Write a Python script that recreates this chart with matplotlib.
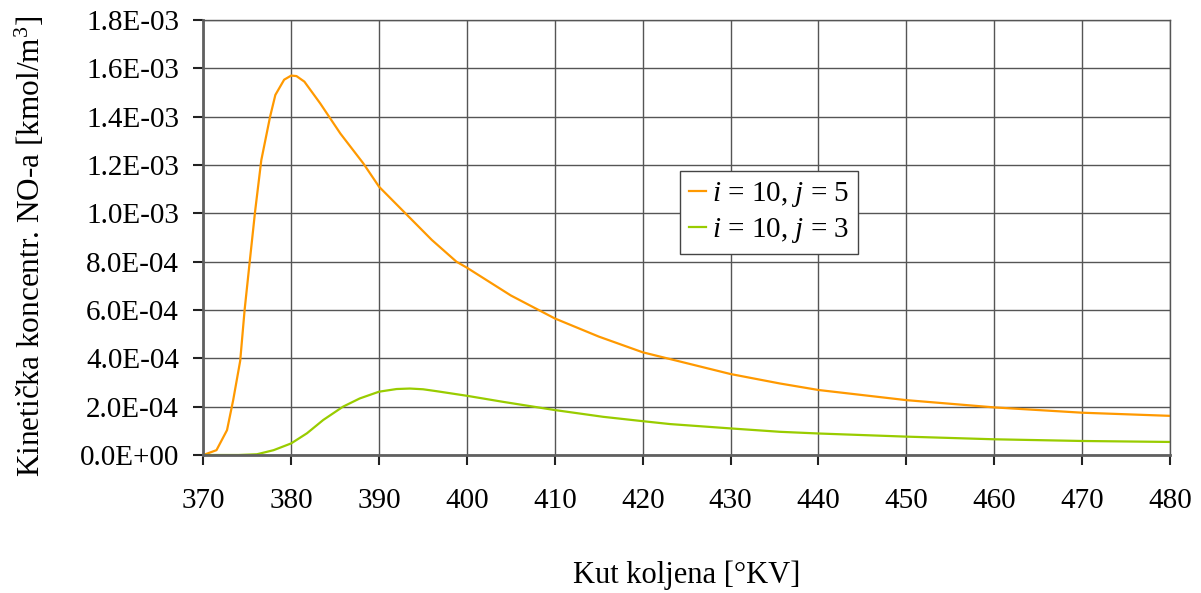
import numpy as np
import matplotlib
matplotlib.use("Agg")
import matplotlib.pyplot as plt
from matplotlib.ticker import FuncFormatter, MultipleLocator

plt.rcParams['font.family'] = ['Liberation Serif', 'DejaVu Serif']
plt.rcParams['mathtext.fontset'] = 'custom'
plt.rcParams['mathtext.rm'] = 'Liberation Serif'
plt.rcParams['mathtext.it'] = 'Liberation Serif:italic'
plt.rcParams['mathtext.bf'] = 'Liberation Serif:bold'

# crank angle [deg CA] and NO concentration [kmol/m3]
x_j5 = [370, 371.5, 372.7, 373.4, 374.2, 374.7, 375.3, 375.9, 376.6, 377.6,
        378.2, 379.2, 380, 380.6, 381.5, 382.4, 383.3, 385.6, 388.2, 390,
        393, 396, 398.8, 400, 405, 410, 415, 420, 425, 430,
        435.6, 440, 450, 460, 470, 480]
y_j5 = [0, 0.02, 0.103, 0.227, 0.39, 0.60, 0.806, 1.01, 1.22, 1.40,
        1.49, 1.553, 1.57, 1.568, 1.545, 1.50, 1.455, 1.33, 1.207, 1.11,
        1.0, 0.89, 0.80, 0.775, 0.66, 0.565, 0.49, 0.425, 0.38, 0.335,
        0.296, 0.269, 0.227, 0.197, 0.175, 0.162]

x_j3 = [370, 374, 376.1, 378, 380, 381.8, 383.65, 385.9, 387.8, 390,
        392, 393.5, 395, 396.55, 400, 404.1, 410, 415.5, 420, 423.1,
        430, 435.6, 440, 450, 460, 470, 480]
y_j3 = [0, 0, 0.003, 0.02, 0.048, 0.09, 0.145, 0.2, 0.234, 0.262,
        0.273, 0.275, 0.272, 0.264, 0.245, 0.220, 0.186, 0.158, 0.140, 0.128,
        0.11, 0.096, 0.089, 0.076, 0.065, 0.058, 0.054]

y_j5 = np.array(y_j5) * 1e-3
y_j3 = np.array(y_j3) * 1e-3

fig = plt.figure(figsize=(12.01, 5.93), dpi=100)
ax = fig.add_axes([203.3 / 1201, 1 - 455 / 593, 966.7 / 1201, 435 / 593])

ax.plot(x_j5, y_j5, color='#FF9900', lw=1.6, label=r'$i$ = 10, $j$ = 5')
ax.plot(x_j3, y_j3, color='#99CC00', lw=1.6, label=r'$i$ = 10, $j$ = 3')

ax.set_xlim(370, 480)
ax.set_ylim(0, 1.8e-3)
ax.xaxis.set_major_locator(MultipleLocator(10))
ax.yaxis.set_major_locator(MultipleLocator(2e-4))
ax.yaxis.set_major_formatter(FuncFormatter(lambda v, p: f"{v:.1E}"))

ax.grid(True, color='#555555', lw=1.0)
ax.set_axisbelow(True)
for s in ['top', 'right']:
    ax.spines[s].set_color('#555555')
    ax.spines[s].set_linewidth(1.0)
for s in ['left', 'bottom']:
    ax.spines[s].set_color('#606060')
    ax.spines[s].set_linewidth(2.0)

ax.tick_params(axis='both', direction='out', length=7, width=1.5,
               color='#222222', labelsize=21)
ax.tick_params(axis='x', pad=17)
ax.tick_params(axis='y', pad=10.5)

ax.set_xlabel('Kut koljena [°KV]', fontsize=22)
ax.set_ylabel(r'Kinetička koncentr. NO-a [kmol/m$^3$]', fontsize=22.5)
ax.xaxis.label.set_va('center')
ax.yaxis.label.set_va('center')
ax.xaxis.set_label_coords(0.5, -0.276)
ax.yaxis.set_label_coords(-0.179, 0.48)

leg = ax.legend(loc='upper left', bbox_to_anchor=(0.493, 0.652), borderaxespad=0,
                fontsize=21, frameon=True, fancybox=False, handlelength=0.6,
                handletextpad=0.2, borderpad=0.3, labelspacing=0.25)
leg.get_frame().set_edgecolor('#444444')
leg.get_frame().set_linewidth(1.0)
leg.get_frame().set_alpha(1)

fig.savefig('out.png', dpi=100)
